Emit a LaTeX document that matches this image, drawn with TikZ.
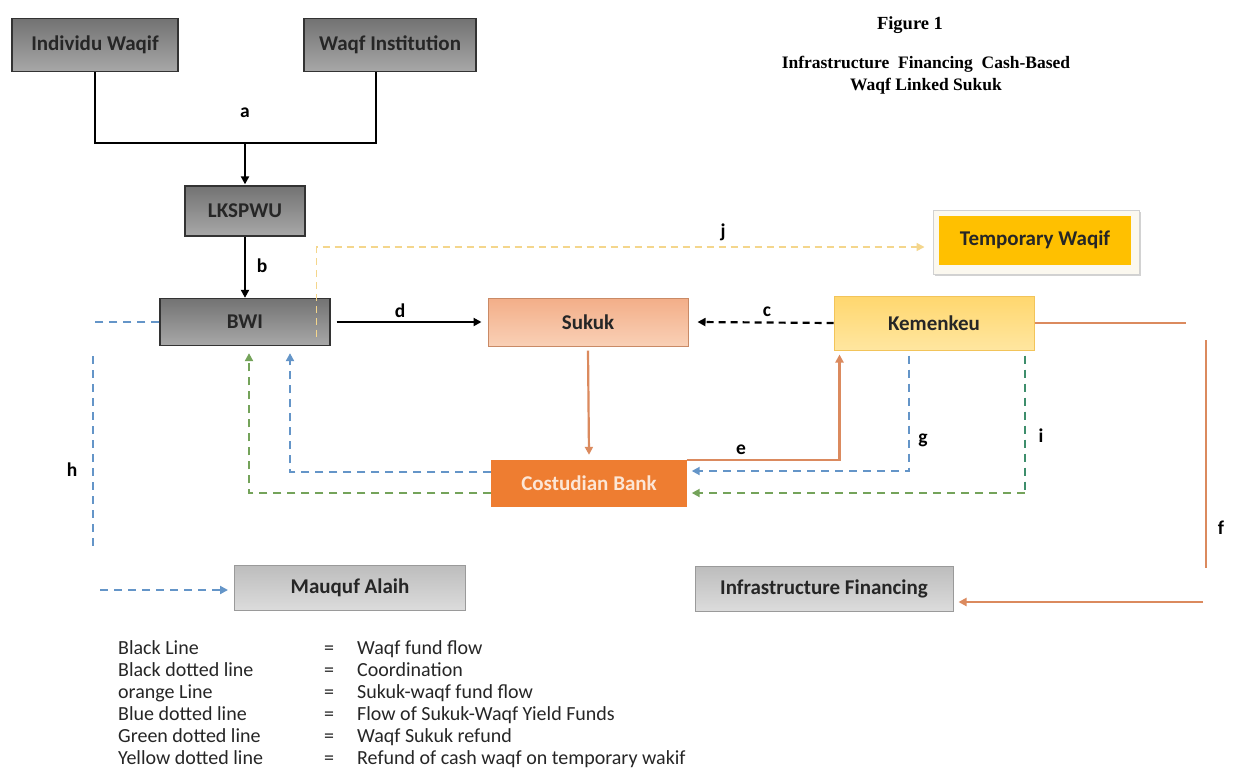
\documentclass[tikz,border=0pt]{standalone}
\usepackage{fontspec}
\setmainfont{Carlito}
\newfontfamily\titlefont{Liberation Serif}
\usetikzlibrary{arrows.meta,calc,shadows}
\definecolor{gtop}{HTML}{737373}
\definecolor{gbot}{HTML}{A8A8A8}
\definecolor{gbrd}{HTML}{333333}
\definecolor{sktop}{HTML}{F3AE88}
\definecolor{skbot}{HTML}{F9D0B6}
\definecolor{skbrd}{HTML}{C98A66}
\definecolor{kmtop}{HTML}{FFD76E}
\definecolor{kmbot}{HTML}{FFE6A0}
\definecolor{kmbrd}{HTML}{F2C45A}
\definecolor{cbfill}{HTML}{EE7D31}
\definecolor{cbtext}{HTML}{FCE6D6}
\definecolor{lgtop}{HTML}{BDBDBD}
\definecolor{lgbot}{HTML}{DCDCDC}
\definecolor{lgbrd}{HTML}{9A9A9A}
\definecolor{twfill}{HTML}{FFC000}
\definecolor{twout}{HTML}{FBF8EF}
\definecolor{orgline}{HTML}{DB8A5E}
\definecolor{bluline}{HTML}{6495C8}
\definecolor{grnline}{HTML}{74A35A}
\definecolor{tealline}{HTML}{3E8E6C}
\definecolor{ylwline}{HTML}{F4D68C}
\definecolor{txt}{HTML}{262626}
\begin{document}
\begin{tikzpicture}[x=1pt,y=-1pt,
  boxlabel/.style={font=\fontsize{21}{23}\selectfont\bfseries, text=txt, inner sep=0pt},
  gbox/.style={boxlabel, draw=gbrd, line width=1.3pt, top color=gtop, bottom color=gbot},
  skbox/.style={boxlabel, draw=skbrd, line width=1pt, top color=sktop, bottom color=skbot},
  kmbox/.style={boxlabel, draw=kmbrd, line width=1pt, top color=kmtop, bottom color=kmbot},
  cbbox/.style={boxlabel, draw=cbfill, fill=cbfill, text=cbtext},
  lgbox/.style={boxlabel, draw=lgbrd, line width=1pt, top color=lgtop, bottom color=lgbot},
  twoutbox/.style={draw=black!18, line width=1pt, fill=twout, drop shadow={shadow xshift=1.5pt, shadow yshift=-2pt, fill=black!35}},
  twbox/.style={boxlabel, fill=twfill},
  lab/.style={font=\fontsize{19.5}{21}\selectfont\bfseries, text=black, inner sep=0pt},
  leg/.style={font=\fontsize{20}{22}\selectfont, text=txt, inner sep=0pt, anchor=base west},
  ttl/.style={font=\titlefont\fontsize{17.5}{22}\selectfont\bfseries, inner sep=0pt, align=center},
  tip/.style={-{Triangle[length=8pt,width=8pt]}},
  blk/.style={draw=black, line width=2.2pt},
  blkd/.style={draw=black, line width=2.2pt, dash pattern=on 7pt off 5pt},
  org/.style={draw=orgline, line width=2.2pt},
  blu/.style={draw=bluline, line width=2pt, dash pattern=on 8pt off 6pt},
  grn/.style={draw=grnline, line width=2pt, dash pattern=on 8pt off 6pt},
  teal/.style={draw=tealline, line width=2pt, dash pattern=on 8pt off 6pt},
  ylw/.style={draw=ylwline, line width=1.6pt, dash pattern=on 7pt off 5pt}
]
\useasboundingbox (0,0) rectangle (1233,780);
\fill[white] (0,0) rectangle (1233,780);

% title
\node[ttl, font=\titlefont\fontsize{18.5}{22}\selectfont\bfseries] (t1) at (910,25) {Figure 1};
\node[ttl] (t2) at (926,75) {Infrastructure\ \ Financing\ \ Cash-Based\\Waqf Linked Sukuk};

% boxes
\node[gbox, minimum width=166, minimum height=53] (iw) at (95,45) {Individu Waqif};
\node[gbox, minimum width=172, minimum height=53] (wi) at (390,45) {Waqf Institution};
\node[gbox, minimum width=120, minimum height=50] (lk) at (245,211) {LKSPWU};
\node[gbox, minimum width=170, minimum height=47] (bwi) at (245,322) {BWI};
\node[skbox, minimum width=200, minimum height=48] (sk) at (588,322) {Sukuk};
\node[kmbox, minimum width=200, minimum height=54] (km) at (934,323) {Kemenkeu};
\node[cbbox, minimum width=195, minimum height=46] (cb) at (589,483) {Costudian Bank};
\node[lgbox, minimum width=231, minimum height=45] (ma) at (350,588) {Mauquf Alaih};
\node[lgbox, minimum width=258, minimum height=45] (inf) at (824,589) {Infrastructure Financing};
\node[twoutbox, minimum width=206, minimum height=64] (two) at (1036,242) {};
\node[twbox, minimum width=192, minimum height=49] (tw) at (1035,240) {Temporary Waqif};

% a
\coordinate (ja) at (245,143);
\coordinate (wis) at ($(wi.south)+(-14,0)$);
\draw[blk] (iw.south) |- (ja) -| (wis);
\draw[blk, tip] (ja) -- ($(lk.north)+(0,-1)$);
\node[lab] (la) at (245,113) {a};
% b
\draw[blk, tip] (lk.south) -- (bwi.north);
\node[lab] (lb) at (262,266) {b};
% d
\draw[blk, tip] ($(bwi.east)+(6,0)$) -- ($(sk.west)+(-6,0)$);
\node[lab] (ld) at (400,311) {d};
% c
\draw[blkd, tip] (km.west) -- ($(sk.east)+(9,0)$);
\node[lab] (lc) at (767,312) {c};
% sukuk -> cb
\draw[org, tip] ($(sk.south)+(0,4)$) -- ($(cb.north)+(0,-5)$);
% e
\coordinate (ee) at ($(km.south west)+(6,4)$);
\draw[org, tip] (cb.north east) -| (ee);
\node[lab] (le) at (741,450) {e};
% g
\draw[blu, tip] ($(km.south)+(-25,5)$) |- ($(cb.east)+(5,-12)$);
\node[lab] (lg) at (923,440) {g};
% i
\coordinate (itop) at ($(km.south east)+(-10,5)$);
\coordinate (iend) at ($(cb.east)+(5,10)$);
\draw[teal] (itop) -- (itop |- iend);
\draw[grn, tip] (itop |- iend) -- (iend);
\node[lab] (li) at (1041,436) {i};
% cb -> bwi
\draw[blu, tip] ($(cb.west)+(0,-11)$) -| ($(bwi.south)+(45,7)$);
\draw[grn, tip] ($(cb.west)+(0,10)$) -| ($(bwi.south)+(4,7)$);
% h
\coordinate (hs) at ($(bwi.west)+(-67,0)$);
\draw[blu] (bwi.west) -- (hs);
\coordinate (h1) at (93,356);
\coordinate (h2) at (93,550);
\draw[blu] (h1) -- (h2);
\coordinate (h3) at (100,590);
\draw[blu, tip] (h3) -- ($(ma.west)+(-6,2)$);
\node[lab] (lh) at (72,470) {h};
% j
\coordinate (j0) at ($(bwi.east)+(-14,15)$);
\draw[ylw, tip] (j0) |- ($(two.west)+(-8,5)$);
\node[lab] (lj) at (723,232) {j};
% f
\coordinate (f1) at ($(km.east)+(151,0)$);
\draw[org] (km.east) -- (f1);
\coordinate (f2) at (1206,340);
\coordinate (f3) at (1206,568);
\draw[org] (f2) -- (f3);
\coordinate (f4) at (1203,602);
\draw[org, tip] (f4) -- ($(inf.east)+(5,13)$);
\node[lab] (lf) at (1221,528) {f};

% legend
\foreach \i/\a/\b in {0/Black Line/Waqf fund flow,
                      1/Black dotted line/Coordination,
                      2/orange Line/Sukuk-waqf fund flow,
                      3/Blue dotted line/Flow of Sukuk-Waqf Yield Funds,
                      4/Green dotted line/Waqf Sukuk refund,
                      5/Yellow dotted line/Refund of cash waqf on temporary wakif}{
  \node[leg] (legl\i) at (118,654+22*\i) {\a};
  \node[leg] (lege\i) at (324,654+22*\i) {=};
  \node[leg] (legr\i) at (357,654+22*\i) {\b};
}
\end{tikzpicture}
\end{document}
